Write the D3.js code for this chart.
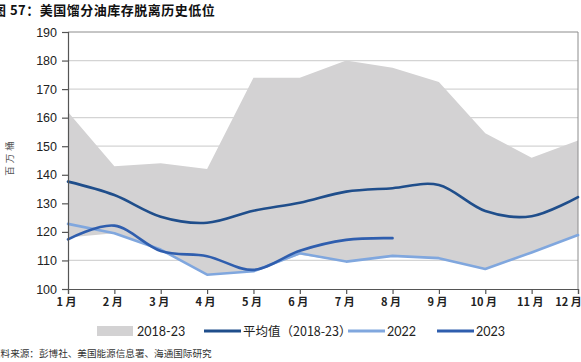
<!DOCTYPE html>
<html><head><meta charset="utf-8">
<script src="https://cdn.jsdelivr.net/npm/d3@7"></script>
<style>
body{margin:0;background:#fff;}
svg{display:block;font-family:Lato,"Noto Sans CJK SC",sans-serif;}
.title{font-family:"Noto Sans CJK SC";font-weight:700;font-size:13px;fill:#111;letter-spacing:0.5px;}
.ylab{font-family:"Noto Sans CJK SC";font-size:9.5px;fill:#555;letter-spacing:3px;}
.tick text{fill:#222;}
.src{font-family:"Noto Sans CJK SC";font-size:9.6px;fill:#333;}
</style></head>
<body><svg id="chart"></svg>
<script>
'use strict';
// values (million barrels)
const months=['1 月','2 月','3 月','4 月','5 月','6 月','7 月','8 月','9 月','10 月','11 月','12 月'];
const rangeMax=[162,143,144,142,174,174,180,177.5,172.5,154.5,146,152];
const rangeMin=[118,119.5,113.5,105,106,112,109.5,111.5,110.5,107,113,119];
const avg=[137.6,132.9,125.3,123.2,127.4,130.2,134.1,135.3,136.4,127.3,125.5,132.2];
const y2022=[122.8,119.5,113.8,105,106.2,112.5,109.6,111.6,110.8,107,112.8,118.9];
const y2023=[117.4,122.2,113.3,111.5,106.7,113.4,117.2,117.8];
const yTicks=[100,110,120,130,140,150,160,170,180,190];

const W=581,H=362;
const m={top:32,right:3,bottom:73,left:68};
const svg=d3.select('#chart').attr('width',W).attr('height',H);
const x=d3.scalePoint().domain(months).range([m.left,W-m.right]);
const y=d3.scaleLinear().domain([100,190]).range([H-m.bottom,m.top]);

// gridlines
svg.append('g').selectAll('line').data(yTicks.slice(1,-1)).join('line')
  .attr('x1',m.left).attr('x2',W-m.right).attr('y1',d=>y(d)).attr('y2',d=>y(d))
  .attr('stroke','#d4d4d4').attr('stroke-width',1.3);

// band 2018-23
const band=months.map((mo,i)=>({mo,lo:rangeMin[i],hi:rangeMax[i]}));
svg.append('path').datum(band)
  .attr('d',d3.area().x(d=>x(d.mo)).y0(d=>y(d.lo)).y1(d=>y(d.hi)))
  .attr('fill','#d3d2d3');

// plot frame (top + right)
svg.append('path').attr('d',`M${m.left},${m.top}H${W-m.right}V${H-m.bottom}`)
  .attr('fill','none').attr('stroke','#8c8c8c').attr('stroke-width',1);

const smooth=d3.line().x((d,i)=>x(months[i])).y(d=>y(d)).curve(d3.curveCardinal.tension(0));
const straight=d3.line().x((d,i)=>x(months[i])).y(d=>y(d));
const series=[
  {name:'平均值（2018-23）',vals:avg,color:'#1f4e8b',gen:smooth},
  {name:'2022',vals:y2022,color:'#80a7de',gen:straight},
  {name:'2023',vals:y2023,color:'#2f5eae',gen:smooth},
];
series.forEach(s=>svg.append('path').datum(s.vals).attr('d',s.gen)
  .attr('fill','none').attr('stroke',s.color).attr('stroke-width',2.6)
  .attr('stroke-linejoin','round').attr('stroke-linecap','round'));

// axes
const yAx=svg.append('g').attr('class','tick').attr('transform',`translate(${m.left},0)`)
  .call(d3.axisLeft(y).tickValues(yTicks).tickSize(6).tickPadding(5));
yAx.selectAll('text').attr('font-size','12.5px');
const xAx=svg.append('g').attr('class','tick').attr('transform',`translate(0,${H-m.bottom})`)
  .call(d3.axisBottom(x).tickSize(5).tickPadding(4));
xAx.selectAll('text').attr('font-family','"Noto Sans CJK SC"').attr('font-weight',700).attr('font-size','11px')
  .attr('dx',(d,i)=>i==months.length-1?-10:-2);
svg.selectAll('.domain,.tick line').attr('stroke','#555').attr('stroke-width',1.2);

// y axis unit
svg.append('text').attr('class','ylab').attr('transform','translate(9,157) rotate(-90)')
  .attr('text-anchor','middle').attr('dominant-baseline','central').text('百万桶');

// title + source
svg.append('text').attr('class','title').attr('x',-7).attr('y',15).text('图 57：美国馏分油库存脱离历史低位');
svg.append('text').attr('class','src').attr('x',-9).attr('y',357).text('资料来源：彭博社、美国能源信息署、海通国际研究');

// legend
const lg=svg.append('g').attr('font-size','12.5px').attr('fill','#222');
lg.append('rect').attr('x',97).attr('y',326).attr('width',36).attr('height',10).attr('fill','#d3d2d3');
lg.append('text').attr('x',137).attr('y',336).text('2018-23');
const lx=[204,348,437];
series.forEach((s,i)=>{
  lg.append('line').attr('x1',lx[i]).attr('x2',lx[i]+37).attr('y1',331).attr('y2',331)
    .attr('stroke',s.color).attr('stroke-width',3);
  lg.append('text').attr('x',lx[i]+39).attr('y',336)
    .attr('font-family',i==0?'"Noto Sans CJK SC"':null).text(s.name);
});
</script></body></html>
